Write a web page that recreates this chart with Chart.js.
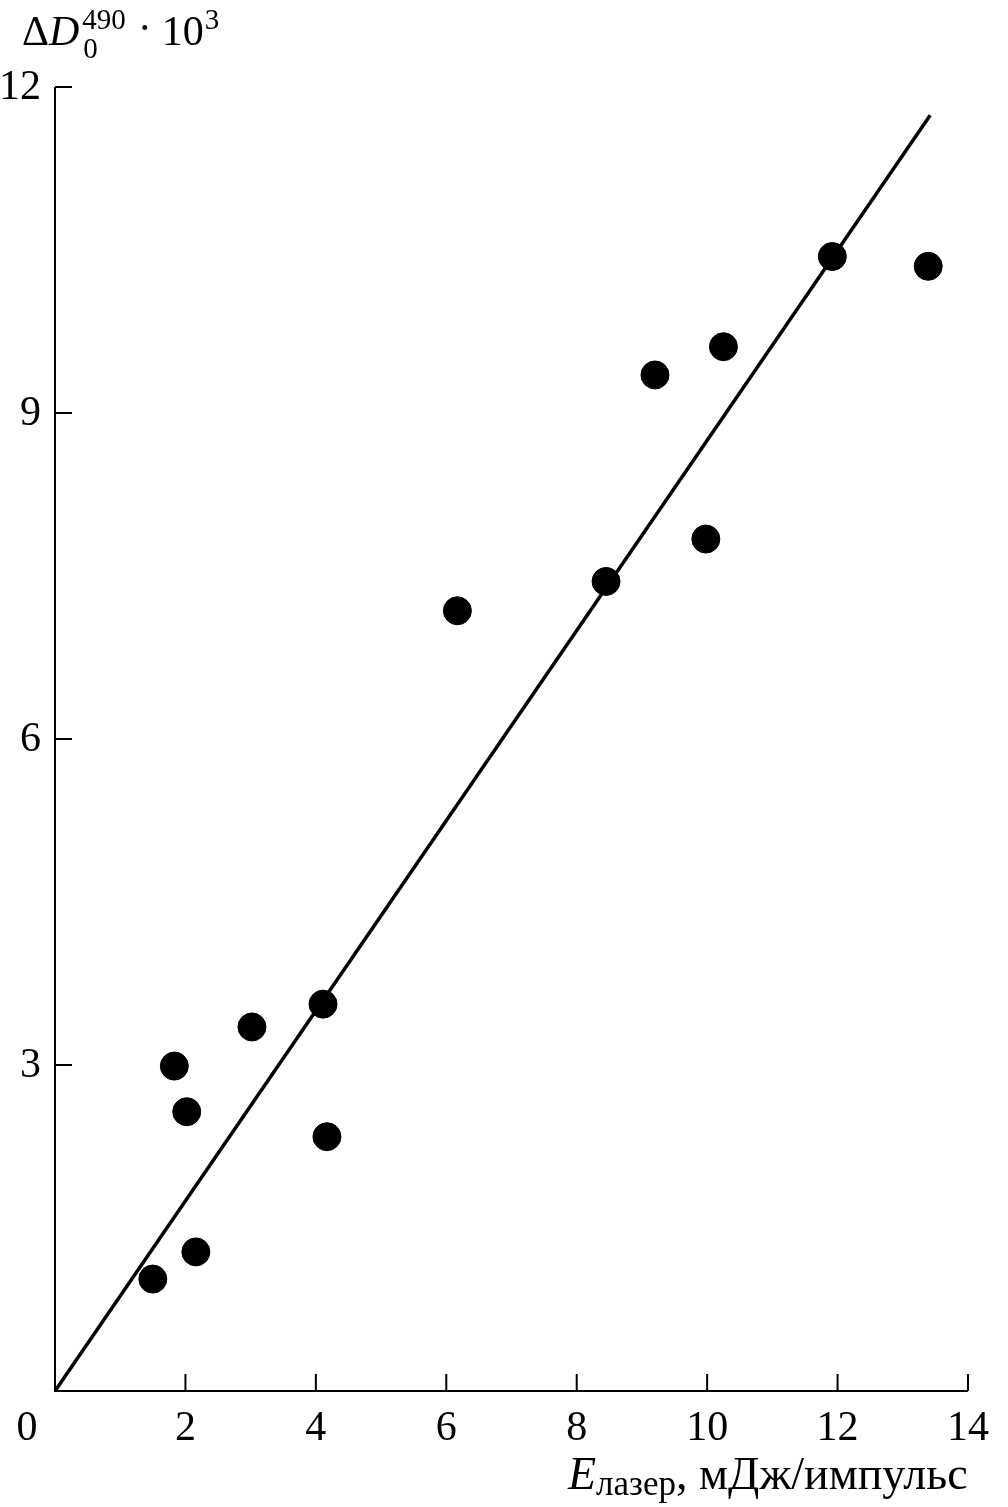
<!DOCTYPE html>
<html>
<head>
<meta charset="utf-8">
<script src="https://cdn.jsdelivr.net/npm/chart.js@4/dist/chart.umd.min.js"></script>
<style>
  html, body { margin: 0; padding: 0; background: #fff; }
  #wrap { width: 1008px; height: 1507px; }
</style>
</head>
<body>
<div id="wrap"><canvas id="plot" width="1008" height="1507"></canvas></div>
<script>
// data
const energy = [1.50, 1.83, 2.02, 2.16, 3.02, 4.11, 4.17, 6.17, 8.45, 9.20, 9.98, 10.25, 11.92, 13.39];
const deltaD = [1.03, 2.99, 2.57, 1.28, 3.35, 3.56, 2.34, 7.18, 7.45, 9.35, 7.84, 9.61, 10.44, 10.35];
const fitX = [0, 13.42];
const fitY = [0, 11.74];
const xTicks = [0, 2, 4, 6, 8, 10, 12, 14];
const yTicks = [3, 6, 9, 12];

const FONT = '"Liberation Serif", "Times New Roman", serif';

// axes, inward ticks, labels
const axesPlugin = {
  id: 'axes',
  afterDraw(chart) {
    const ctx = chart.ctx;
    const xs = chart.scales.x, ys = chart.scales.y;
    const x0 = xs.getPixelForValue(0), y0 = ys.getPixelForValue(0);
    const xEnd = xs.getPixelForValue(14), yTop = ys.getPixelForValue(12);
    ctx.save();
    ctx.strokeStyle = '#000';
    ctx.lineWidth = 2;
    ctx.beginPath();
    ctx.moveTo(x0, yTop);
    ctx.lineTo(x0, y0);
    ctx.lineTo(xEnd, y0);
    ctx.stroke();

    ctx.fillStyle = '#000';
    ctx.font = '42px ' + FONT;

    // y ticks
    ctx.textAlign = 'right';
    ctx.textBaseline = 'middle';
    yTicks.forEach(v => {
      const p = ys.getPixelForValue(v);
      ctx.beginPath();
      ctx.moveTo(x0, p);
      ctx.lineTo(x0 + 17, p);
      ctx.stroke();
      ctx.fillText(String(v), x0 - 14, p + 1);
    });

    // x ticks
    ctx.textAlign = 'center';
    ctx.textBaseline = 'alphabetic';
    xTicks.forEach(v => {
      const p = xs.getPixelForValue(v);
      if (v > 0) {
        ctx.beginPath();
        ctx.moveTo(p, y0);
        ctx.lineTo(p, y0 - 17);
        ctx.stroke();
      }
      const lx = v === 0 ? p - 28 : p;
      ctx.fillText(String(v), lx, y0 + 49);
    });

    // y title: ΔD_0^490 · 10^3
    ctx.textAlign = 'left';
    let x = 22, base = 45;
    ctx.font = '42px ' + FONT;
    ctx.fillText('Δ', x, base);
    x += ctx.measureText('Δ').width;
    ctx.font = 'italic 42px ' + FONT;
    ctx.fillText('D', x, base);
    x += ctx.measureText('D').width + 3;
    ctx.font = '29px ' + FONT;
    ctx.fillText('490', x, base - 16);
    ctx.fillText('0', x + 1, base + 13);
    x += ctx.measureText('490').width + 12;
    ctx.font = '42px ' + FONT;
    ctx.fillText('·', x, base - 3);
    x += ctx.measureText('·').width + 10;
    ctx.fillText('10', x, base);
    x += ctx.measureText('10').width + 1;
    ctx.font = '29px ' + FONT;
    ctx.fillText('3', x, base - 16);

    // x title: E_лазер, мДж/импульс
    x = 568; base = 1489;
    ctx.font = 'italic 46px ' + FONT;
    ctx.fillText('E', x, base);
    x += ctx.measureText('E').width;
    ctx.font = '35px ' + FONT;
    ctx.fillText('лазер', x, base + 6);
    x += ctx.measureText('лазер').width;
    ctx.font = '46px ' + FONT;
    ctx.fillText(', мДж/импульс', x, base);
    ctx.restore();
  }
};

new Chart(document.getElementById('plot'), {
  type: 'scatter',
  data: {
    datasets: [
      {
        type: 'line',
        data: fitX.map((v, i) => ({ x: v, y: fitY[i] })),
        borderColor: '#000',
        borderWidth: 3.5,
        pointRadius: 0,
        fill: false,
        clip: false
      },
      {
        data: energy.map((v, i) => ({ x: v, y: deltaD[i] })),
        backgroundColor: '#000',
        borderColor: '#000',
        pointRadius: 14,
        pointHoverRadius: 14,
        clip: false
      }
    ]
  },
  options: {
    responsive: false,
    animation: false,
    events: [],
    layout: { padding: { left: 55, right: 40, top: 87, bottom: 116 } },
    scales: {
      x: { type: 'linear', min: 0, max: 14, display: false },
      y: { type: 'linear', min: 0, max: 12, display: false }
    },
    plugins: { legend: { display: false }, tooltip: { enabled: false } }
  },
  plugins: [axesPlugin]
});
</script>
</body>
</html>
